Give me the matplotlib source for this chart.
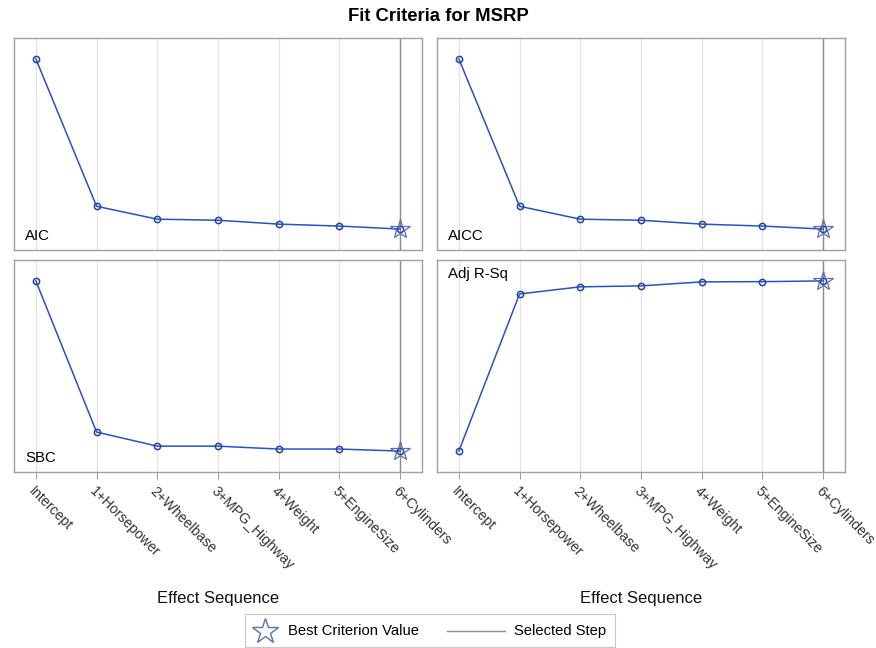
import numpy as np
import matplotlib
matplotlib.use("Agg")
import matplotlib.pyplot as plt
from matplotlib.lines import Line2D
from matplotlib.patches import Rectangle

plt.rcParams['font.family'] = ['Liberation Sans', 'DejaVu Sans']

# 数据
steps = ['Intercept', '1+Horsepower', '2+Wheelbase', '3+MPG_Highway',
         '4+Weight', '5+EngineSize', '6+Cylinders']
aic = [7900, 7215, 7155, 7150, 7132, 7123, 7109]
aicc = [7640, 6955, 6895, 6890, 6872, 6863, 6849]
sbc = [7905, 7230, 7167, 7167, 7154, 7154, 7145]
adj_rsq = [0.0, 0.665, 0.695, 0.699, 0.716, 0.717, 0.720]
selected_step = 6

line_col = '#2a52be'
marker_col = '#23449f'
star_col = '#5a6fb4'
frame_col = '#a0a0a0'

fig = plt.figure(figsize=(8.76, 6.48), dpi=100)
fig.suptitle('Fit Criteria for MSRP', x=0.5, y=0.988, fontsize=13.3, fontweight='bold')

W, H = 876, 648
# 面板位置 (像素)
panels = [
    (14, 38, aic, 'AIC', 'bl', False),
    (437, 38, aicc, 'AICC', 'bl', False),
    (14, 260, sbc, 'SBC', 'bl', True),
    (437, 260, adj_rsq, 'Adj R-Sq', 'tl', True),
]
pw, ph = 408, 212

x = np.arange(len(steps))
for px, py, vals, name, pos, show_x in panels:
    ax = fig.add_axes([px / W, 1 - (py + ph) / H, pw / W, ph / H])
    vals = np.array(vals, dtype=float)
    best = np.argmax(vals) if name == 'Adj R-Sq' else np.argmin(vals)

    for xi in x:
        ax.axvline(xi, color='#e3e3e3', lw=0.9, zorder=0)
    ax.axvline(selected_step, color='#8c8c8c', lw=1.0, zorder=1)

    ax.plot(x, vals, color=line_col, lw=1.1, zorder=2)
    ax.plot(x, vals, 'o', ms=4.5, mfc='none', mec=marker_col, mew=1.1, zorder=3)
    ax.plot(x[best], vals[best], marker='*', ms=15, mfc='none', mec=star_col, mew=0.9, zorder=4)

    lo, hi = vals.min(), vals.max()
    pad = (hi - lo) * 0.123
    ax.set_ylim(lo - pad, hi + pad)
    ax.set_xlim(-0.36, 6.36)
    ax.set_yticks([])
    for s in ax.spines.values():
        s.set_color(frame_col)
        s.set_linewidth(1.0)

    if pos == 'bl':
        ax.text(0.028, 0.035, name, transform=ax.transAxes, fontsize=10.8, ha='left', va='bottom')
    else:
        ax.text(0.028, 0.965, name, transform=ax.transAxes, fontsize=10.8, ha='left', va='top')

    ax.set_xticks(x)
    if show_x:
        ax.set_xticklabels(steps, rotation=-45, ha='left', va='top',
                           rotation_mode='anchor', fontsize=10.2, color='#333333')
        ax.tick_params(axis='x', length=5, color=frame_col, pad=4)
        ax.set_xlabel('Effect Sequence', fontsize=12, color='#111111')
        ax.xaxis.set_label_coords(0.5, -0.56)
    else:
        ax.set_xticklabels([])
        ax.tick_params(axis='x', length=0)

# 图例 (手动绘制)
def fx(p):
    return p / W

def fy(p):
    return 1 - p / H

fig.add_artist(Rectangle((fx(245), fy(647)), fx(370), 33 / H, transform=fig.transFigure,
                         fill=False, edgecolor='#c8c8c8', lw=0.8))
fig.add_artist(Line2D([fx(265)], [fy(631)], marker='*', color='none', mfc='none',
                      mec=star_col, ms=19, mew=1.0, transform=fig.transFigure))
fig.text(fx(288), fy(631), 'Best Criterion Value', fontsize=10.6, va='center', ha='left')
fig.add_artist(Line2D([fx(447), fx(505)], [fy(631), fy(631)], color='#8c8c8c', lw=1.0,
                      transform=fig.transFigure))
fig.text(fx(514), fy(631), 'Selected Step', fontsize=10.6, va='center', ha='left')

fig.savefig('out.png', dpi=100)
